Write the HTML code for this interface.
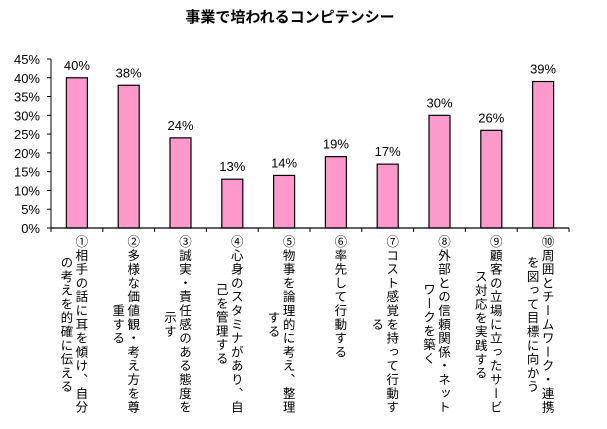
<!DOCTYPE html>
<html><head><meta charset="utf-8"><style>
body{margin:0;background:#fff;}
#c{position:relative;width:607px;height:429px;overflow:hidden;font-family:"Liberation Sans","Noto Sans CJK JP",sans-serif;}
.v{position:absolute;writing-mode:vertical-rl;text-align:center;font-family:"Noto Sans CJK JP",sans-serif;font-size:12.5px;letter-spacing:1.3px;line-height:15px;color:#000;white-space:nowrap;}
</style></head><body>
<div id="c">
<svg id="s" width="607" height="429" style="position:absolute;left:0;top:0">
<text x="290" y="22" text-anchor="middle" font-size="15" font-weight="bold" font-family="Noto Sans CJK JP, sans-serif">事業で培われるコンピテンシー</text>
</svg>
</div>
<script>
const categories=["①相手の話に耳を傾け、自分|の考えを的確に伝える","②多様な価値観・考え方を尊|重する","③誠実・責任感のある態度を|示す","④心身のスタミナがあり、自|己を管理する","⑤物事を論理的に考え、整理|する","⑥率先して行動する","⑦コスト感覚を持って行動す|る","⑧外部との信頼関係・ネット|ワークを築く","⑨顧客の立場に立ったサービ|ス対応を実践する","⑩周囲とチームワーク・連携|を図って目標に向かう"];
const values=[40,38,24,13,14,19,17,30,26,39];
const yTicks=[0,5,10,15,20,25,30,35,40,45];
const NS="http://www.w3.org/2000/svg";
const svg=document.getElementById('s'),c=document.getElementById('c');
const L=51,R=569,T0=228,PX=3.756;
const y=v=>T0-v*PX;
const bw=(R-L)/categories.length;
const xc=i=>L+bw*(i+0.5);
function mk(t,a){const e=document.createElementNS(NS,t);for(const k in a)e.setAttribute(k,a[k]);svg.appendChild(e);return e;}
const ya=mk('line',{x1:L,y1:y(45),x2:L,y2:T0,stroke:'#000','stroke-width':1});


yTicks.forEach(v=>{
 const tk=mk('line',{x1:L-4,y1:y(v),x2:L,y2:y(v),stroke:'#000'});
 
 
 const t=mk('text',{x:L-11,y:y(v)+5,'text-anchor':'end','font-size':13,'font-family':'Liberation Sans, sans-serif'});
 t.textContent=v+'%';
 
 
});
values.forEach((v,i)=>{
 const b=mk('rect',{x:xc(i)-10.5,y:y(v),width:21,height:T0-y(v),fill:'#ff99cc',stroke:'#000','stroke-width':1.2});
 
 
 const t=mk('text',{x:xc(i),y:y(v)-8,'text-anchor':'middle','font-size':13,'font-family':'Liberation Sans, sans-serif'});
 t.textContent=v+'%';
 
 
});
for(let i=0;i<=categories.length;i++){
 const tk=mk('line',{x1:L+bw*i,y1:T0,x2:L+bw*i,y2:T0+4,stroke:'#000'});
 
 
}
const xa=mk('line',{x1:L,y1:T0,x2:R,y2:T0,stroke:'#000','stroke-width':1.2});


categories.forEach((cat,i)=>{
 const lines=cat.split('|');
 const d=document.createElement('div');
 d.className='v';
 lines.forEach((ln,j)=>{
  if(j)d.appendChild(document.createElement('br'));
  d.appendChild(document.createTextNode(ln));
 });
 d.style.left=(xc(i)+5+7.5-15*lines.length)+'px';
 d.style.top='235px';
 
 
 c.appendChild(d);
});
</script>
</body></html>
